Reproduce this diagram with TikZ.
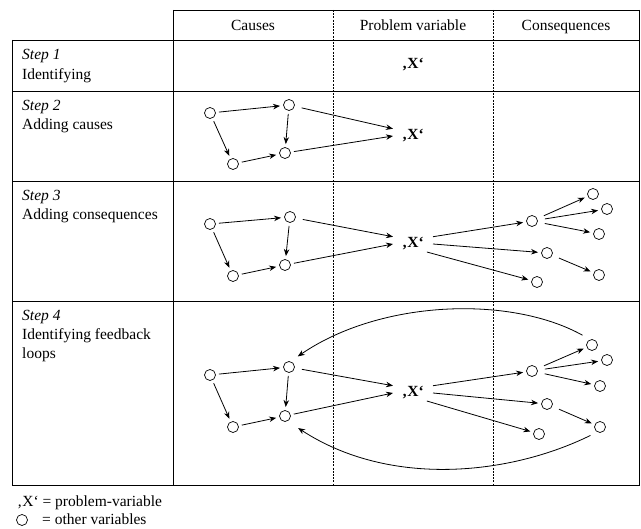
\documentclass[tikz,border=0pt]{standalone}
\usepackage{fontspec}
\setmainfont{Liberation Serif}
\usetikzlibrary{arrows.meta}
\tikzset{
  var/.style={draw, circle, minimum size=11pt, inner sep=0pt, outer sep=3.5pt, line width=0.7pt},
  pv/.style={font=\fontsize{15.5}{19}\selectfont\bfseries, inner sep=0pt, minimum width=40pt, minimum height=16pt, outer sep=0pt},
  arr/.style={-{Stealth[length=7pt,width=5.5pt]}, line width=0.8pt},
  farr/.style={arr, shorten <=4pt},
  grid/.style={line width=0.9pt},
  dgrid/.style={line width=0.6pt, dash pattern=on 2pt off 1.2pt},
  txt/.style={font=\fontsize{15.5}{19}\selectfont, inner sep=0pt},
}
\begin{document}
\begin{tikzpicture}[x=1pt,y=-1pt]
\useasboundingbox (0,0) rectangle (641,529);
% table grid
\draw[grid] (173,10) -- (639.5,10);
\draw[grid] (12,40) -- (639.5,40);
\foreach \yy in {91,181,301,485} \draw[grid] (12,\yy) -- (639.5,\yy);
\draw[grid] (12,40) -- (12,485);
\draw[grid] (173,10) -- (173,485);
\draw[grid] (639.5,10) -- (639.5,485);
\draw[dgrid] (333,10) -- (333,485);
\draw[dgrid] (493,10) -- (493,485);
% header
\node[txt, anchor=base] (hc) at (253,31) {Causes};
\node[txt, anchor=base] (hp) at (413,31) {Problem variable};
\node[txt, anchor=base] (hq) at (566,31) {Consequences};
% row labels
\node[txt, anchor=base west] (s1a) at (22,60) {\textit{Step 1}};
\node[txt, anchor=base west] (s1b) at (22,80) {Identifying};
\node[txt, anchor=base west] (s2a) at (22,111) {\textit{Step 2}};
\node[txt, anchor=base west] (s2b) at (22,130) {Adding causes};
\node[txt, anchor=base west] (s3a) at (22,201) {\textit{Step 3}};
\node[txt, anchor=base west] (s3b) at (22,220) {Adding consequences};
\node[txt, anchor=base west] (s4a) at (22,321) {\textit{Step 4}};
\node[txt, anchor=base west] (s4b) at (22,340) {Identifying feedback};
\node[txt, anchor=base west] (s4c) at (22,359) {loops};
% row 1
\node[pv] (X1) at (413,65) {‚X‘};
% row 2
\node[var] (A2) at (210,113) {};
\node[var] (B2) at (289,105) {};
\node[var] (C2) at (233,164) {};
\node[var] (D2) at (285,153) {};
\node[pv] (X2) at (413,136) {‚X‘};
\draw[arr] (A2) -- (B2);
\draw[arr] (A2) -- (C2);
\draw[arr] (B2) -- (D2);
\draw[arr] (C2) -- (D2);
\draw[farr] (B2) -- (X2.160);
\draw[arr] (D2) -- (X2.west);
% row 3
\node[var] (A3) at (210,224) {};
\node[var] (B3) at (290,217) {};
\node[var] (C3) at (233,276) {};
\node[var] (D3) at (285,265) {};
\node[pv] (X3) at (413,244) {‚X‘};
\node[var] (E3) at (532,221) {};
\node[var] (F3a) at (593,194) {};
\node[var] (F3b) at (607,209) {};
\node[var] (F3c) at (599,234) {};
\node[var] (G3) at (547,253) {};
\node[var] (H3) at (599,275) {};
\node[var] (I3) at (537,282) {};
\draw[arr] (A3) -- (B3);
\draw[arr] (A3) -- (C3);
\draw[arr] (B3) -- (D3);
\draw[arr] (C3) -- (D3);
\draw[farr] (B3) -- (X3.160);
\draw[arr] (D3) -- (X3.west);
\draw[arr] (X3.20) -- (E3);
\draw[arr] (X3.east) -- (G3);
\draw[arr] (X3.-30) -- (I3);
\draw[farr] (E3) -- (F3a);
\draw[farr] (E3) -- (F3b);
\draw[farr] (E3) -- (F3c);
\draw[farr] (G3) -- (H3);
% row 4
\node[var] (A4) at (210,375) {};
\node[var] (B4) at (289,367) {};
\node[var] (C4) at (233,427) {};
\node[var] (D4) at (285,416) {};
\node[pv] (X4) at (413,393) {‚X‘};
\node[var] (E4) at (532,371) {};
\node[var] (F4a) at (592,345) {};
\node[var] (F4b) at (607,360) {};
\node[var] (F4c) at (600,386) {};
\node[var] (G4) at (547,404) {};
\node[var] (H4) at (600,427) {};
\node[var] (I4) at (539,434) {};
\draw[arr] (A4) -- (B4);
\draw[arr] (A4) -- (C4);
\draw[arr] (B4) -- (D4);
\draw[arr] (C4) -- (D4);
\draw[farr] (B4) -- (X4.160);
\draw[arr] (D4) -- (X4.west);
\draw[arr] (X4.20) -- (E4);
\draw[arr] (X4.east) -- (G4);
\draw[arr] (X4.-30) -- (I4);
\draw[farr] (E4) -- (F4a);
\draw[farr] (E4) -- (F4b);
\draw[farr] (E4) -- (F4c);
\draw[farr] (G4) -- (H4);
% feedback loops
\draw[arr, shorten <=5pt, shorten >=5pt] (F4a.125) .. controls (510,295) and (380,300) .. (B4.59);
\draw[arr, shorten <=4pt, shorten >=9pt] (H4.228) .. controls (510,475) and (390,488) .. (D4.308);
% legend
\node[txt, anchor=base west] (lg1) at (17,507) {‚X‘ = problem-variable};
\node[var, outer sep=0pt] (lgc) at (22,520) {};
\node[txt, anchor=base west] (lg2) at (42,525) {= other variables};
\end{tikzpicture}
\end{document}
